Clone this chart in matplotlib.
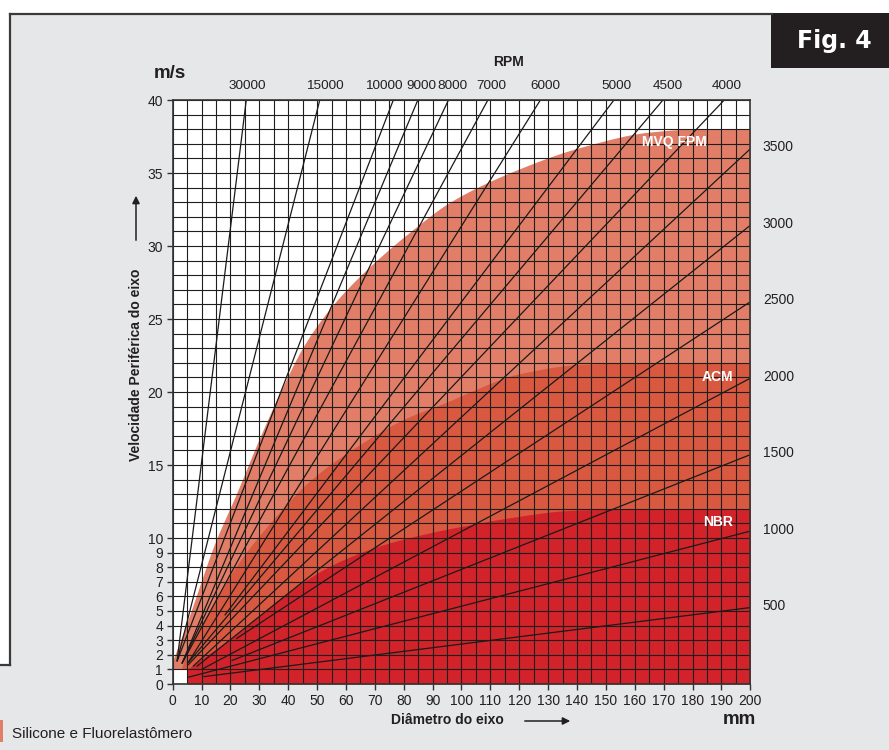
import numpy as np
import matplotlib
matplotlib.use("Agg")
import matplotlib.pyplot as plt
from matplotlib.patches import Rectangle, FancyArrowPatch
from matplotlib.lines import Line2D

plt.rcParams['font.family'] = ['Liberation Sans', 'DejaVu Sans']

# ---------------- data ----------------
x_ticks = list(range(0, 201, 10))
y_ticks = [0, 1, 2, 3, 4, 5, 6, 7, 8, 9, 10, 15, 20, 25, 30, 35, 40]

# material limit curves (diameter mm, peripheral speed m/s)
mvq_d = [0, 1.9, 6.0, 10, 14.1, 22.2, 30.2, 38.2, 45.2, 53.2, 63.6, 85.6, 96, 119, 142, 165, 180, 200]
mvq_v = [1.6, 2.6, 4.8, 7.1, 9.4, 13.1, 16.9, 20.4, 23.1, 25.4, 27.7, 31.5, 33.0, 35.2, 36.8, 37.8, 38.0, 38.0]

acm_d = [3.0, 5.4, 12.3, 22.1, 33.6, 47.4, 63.6, 79.7, 96, 102.9, 119, 142, 165, 200]
acm_v = [1.0, 2.55, 4.84, 8.1, 11.0, 13.9, 16.25, 18.1, 19.4, 20.0, 21.2, 21.9, 22.0, 22.0]

nbr_d = [5.0, 11.3, 22.1, 39.4, 56.8, 74, 92.5, 102.9, 115.5, 138.5, 160, 200]
nbr_v = [1.0, 1.9, 3.4, 6.2, 8.3, 9.6, 10.5, 10.9, 11.35, 11.9, 12.0, 12.0]

material_labels = ["MVQ FPM", "ACM", "NBR"]
material_label_d = [173.6, 188.6, 188.9]
material_label_v = [37.1, 21.0, 11.1]

# RPM lines
rpm = [30000, 15000, 10000, 9000, 8000, 7000, 6000, 5000, 4500, 4000,
       3500, 3000, 2500, 2000, 1500, 1000, 500]
rpm_start_d = [1.5, 1.5, 1.5, 3.2, 3.2, 3.2, 5.3, 18.0, 5.3, 5.3,
               7.0, 8.3, 22.0, 10.0, 20.4, 5.3, 10.6]
rpm_start_v = [1.55, 1.55, 1.55, 1.4, 1.4, 1.4, 1.45, 4.7, 1.45, 1.3,
               1.2, 1.2, 3.1, 1.0, 1.6, 0.46, 0.5]
# positions of the RPM labels along the top edge (mm)
top_label_rpm = [30000, 15000, 10000, 9000, 8000, 7000, 6000, 5000, 4500, 4000]
top_label_d = [25.7, 52.7, 73.0, 86.0, 96.9, 110.5, 128.9, 153.6, 171.6, 192.0]

C_MVQ = '#E27E67'
C_ACM = '#D95840'
C_NBR = '#D2232A'
C_TXT = '#231F20'
BG = '#E6E7E8'

W, H = 889, 750


def pchip(xk, yk, x):
    xk = np.asarray(xk, float); yk = np.asarray(yk, float)
    h = np.diff(xk); d = np.diff(yk) / h
    n = len(xk)
    m = np.zeros(n)
    m[0] = d[0]; m[-1] = d[-1]
    for k in range(1, n - 1):
        if d[k - 1] * d[k] <= 0:
            m[k] = 0
        else:
            w1 = 2 * h[k] + h[k - 1]; w2 = h[k] + 2 * h[k - 1]
            m[k] = (w1 + w2) / (w1 / d[k - 1] + w2 / d[k])
    if d[-1] == 0:
        m[-1] = 0
    idx = np.clip(np.searchsorted(xk, x) - 1, 0, n - 2)
    t = (x - xk[idx]) / h[idx]
    h00 = 2 * t**3 - 3 * t**2 + 1; h10 = t**3 - 2 * t**2 + t
    h01 = -2 * t**3 + 3 * t**2; h11 = t**3 - t**2
    return h00 * yk[idx] + h10 * h[idx] * m[idx] + h01 * yk[idx + 1] + h11 * h[idx] * m[idx + 1]


def fx(px):
    return px / W


def fy(py):
    return 1 - py / H


fig = plt.figure(figsize=(8.89, 7.5), dpi=100)
fig.patch.set_facecolor(BG)

# frame decorations
fig.add_artist(Rectangle((0, fy(13)), 1, 13 / H, transform=fig.transFigure, color='white', lw=0))
fig.add_artist(Rectangle((0, fy(665)), fx(10), (665 - 13) / H, transform=fig.transFigure, color='white', lw=0))
fig.add_artist(Line2D([fx(10), fx(772)], [fy(14), fy(14)], transform=fig.transFigure, color='#3a3a3a', lw=1.6))
fig.add_artist(Line2D([fx(10), fx(10)], [fy(14), fy(665)], transform=fig.transFigure, color='#3a3a3a', lw=1.6))
fig.add_artist(Line2D([0, fx(10)], [fy(665), fy(665)], transform=fig.transFigure, color='#3a3a3a', lw=1.6))
fig.add_artist(Rectangle((fx(771), fy(67.5)), 118 / W, 54.5 / H, transform=fig.transFigure, color=C_TXT, lw=0))
fig.text(fx(834), fy(41), "Fig. 4", color='white', fontsize=17, fontweight='bold',
         family='DejaVu Sans', ha='center', va='center')

# legend
fig.add_artist(Rectangle((0, fy(742)), 3 / W, 22 / H, transform=fig.transFigure, color=C_MVQ, lw=0))
fig.text(fx(12), fy(734), "Silicone e Fluorelastômero", fontsize=11, color=C_TXT, ha='left', va='center')

# axes
ax = fig.add_axes([fx(172.7), fy(684), 577.6 / W, 584 / H])
ax.set_facecolor('white')
ax.set_xlim(0, 200)
ax.set_ylim(0, 40)

xs = np.linspace(0, 200, 801)
xm = xs[xs >= mvq_d[0]]
ax.fill_between(xm, 1.0, pchip(mvq_d, mvq_v, xm), color=C_MVQ, lw=0, zorder=1)
xa = xs[xs >= acm_d[0]]
ax.fill_between(xa, 1.0, pchip(acm_d, acm_v, xa), color=C_ACM, lw=0, zorder=1.1)
xn = xs[xs >= nbr_d[0]]
ax.fill_between(xn, 0.0, pchip(nbr_d, nbr_v, xn), color=C_NBR, lw=0, zorder=1.2)

# grid
ax.set_xticks(x_ticks)
ax.set_xticks(np.arange(0, 201, 5), minor=True)
ax.set_yticks(y_ticks)
ax.set_yticks(np.arange(0, 41, 1), minor=True)
ax.set_axisbelow(False)
ax.grid(which='both', color='#1e1e1e', lw=0.8)
ax.tick_params(which='major', direction='out', length=4, width=1, color='#333333',
               labelsize=10, labelcolor=C_TXT, pad=3)
ax.tick_params(which='minor', length=0)
for s in ax.spines.values():
    s.set_color('#333333')
    s.set_linewidth(1.2)
    s.set_zorder(4)

# RPM lines
for n, d0, v0 in zip(rpm, rpm_start_d, rpm_start_v):
    d_top = 40 * 60000 / (np.pi * n)
    if d_top <= 200:
        d1, v1 = d_top, 40.0
    else:
        d1, v1 = 200.0, np.pi * 200 * n / 60000
        ax.annotate(str(n), (200, v1), xytext=(9, 1), textcoords='offset points',
                    ha='left', va='center', fontsize=10, color=C_TXT, annotation_clip=False)
    ax.plot([d0, d1], [v0, v1], color='#1a1a1a', lw=0.9, zorder=3, solid_capstyle='butt')

for n, d in zip(top_label_rpm, top_label_d):
    ax.annotate(str(n), (d, 40), xytext=(0, 10), textcoords='offset points',
                ha='center', va='center', fontsize=9.7, color=C_TXT, annotation_clip=False)

for t, d, v in zip(material_labels, material_label_d, material_label_v):
    ax.text(d, v, t, color='white', fontsize=10, fontweight='bold', ha='center', va='center', zorder=5)

# axis titles
fig.text(fx(170), fy(73), "m/s", fontsize=13.5, fontweight='bold', color=C_TXT, ha='center', va='center')
fig.text(fx(508), fy(61.5), "RPM", fontsize=10, fontweight='bold', color=C_TXT, ha='center', va='center')
fig.text(fx(739), fy(719), "mm", fontsize=13.5, fontweight='bold', color=C_TXT, ha='center', va='center')
fig.text(fx(447), fy(720), "Diâmetro do eixo", fontsize=10, fontweight='bold', color=C_TXT, ha='center', va='center')
fig.text(fx(136), fy(365), "Velocidade Periférica do eixo", fontsize=10, fontweight='bold',
         color=C_TXT, ha='center', va='center', rotation=90)
fig.add_artist(FancyArrowPatch((fx(522), fy(721)), (fx(573), fy(721)), transform=fig.transFigure,
                               arrowstyle='-|>', mutation_scale=11, lw=1.1, color=C_TXT))
fig.add_artist(FancyArrowPatch((fx(136), fy(243)), (fx(136), fy(193)), transform=fig.transFigure,
                               arrowstyle='-|>', mutation_scale=11, lw=1.1, color=C_TXT))

fig.savefig("out.png", dpi=100, facecolor=fig.get_facecolor())
